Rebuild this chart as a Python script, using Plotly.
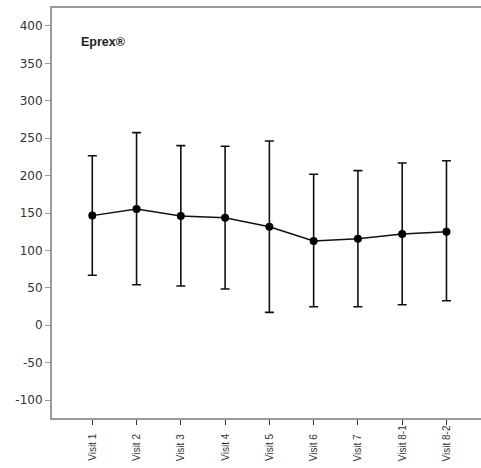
import plotly.graph_objects as go

visits = ["Visit 1", "Visit 2", "Visit 3", "Visit 4", "Visit 5", "Visit 6", "Visit 7", "Visit 8-1", "Visit 8-2"]
means = [146.5, 155.3, 146.0, 143.7, 131.7, 112.5, 115.6, 121.9, 125.0]
upper = [226.6, 257.4, 240.0, 239.2, 246.2, 201.7, 206.6, 216.8, 219.9]
lower = [66.7, 54.1, 52.4, 48.4, 17.2, 24.7, 24.7, 27.4, 32.7]
y_ticks = [-100, -50, 0, 50, 100, 150, 200, 250, 300, 350, 400]
y_tick_labels = ["-100", "-50", "0", "50", "100", "150", "200", "250", "300", "350", "400"]

err_plus = [u - m for u, m in zip(upper, means)]
err_minus = [m - l for m, l in zip(means, lower)]
xi = list(range(len(visits)))

fig = go.Figure()
fig.add_trace(go.Scatter(
    x=xi, y=means, mode="lines+markers",
    line=dict(color="#111111", width=1.5),
    marker=dict(color="#000000", size=8),
    error_y=dict(type="data", symmetric=False, array=err_plus, arrayminus=err_minus,
                 color="#111111", thickness=1.6, width=4.5),
    showlegend=False,
))

annotations = [dict(
    text="<b>Eprex®</b>", xref="paper", yref="paper", x=0.063, y=0.917,
    xanchor="left", yanchor="middle", showarrow=False,
    font=dict(size=12.5, color="#222222", family="Liberation Sans, Arial, sans-serif"),
)]
for i, v in zip(xi, visits):
    annotations.append(dict(
        text=v, xref="x", yref="paper", x=i, y=-0.1098,
        xanchor="center", yanchor="bottom", textangle=-90, showarrow=False,
        font=dict(size=10, color="#333333", family="Liberation Sans, Arial, sans-serif"),
    ))

fig.update_layout(
    width=481, height=468,
    margin=dict(l=52, r=0, t=8, b=50, autoexpand=False),
    plot_bgcolor="white", paper_bgcolor="white",
    font=dict(family="Liberation Sans, Arial, sans-serif", color="#333333"),
    xaxis=dict(
        range=[-0.91, 8.78], tickmode="array", tickvals=xi, showticklabels=False,
        showgrid=False, zeroline=False, automargin=False,
        showline=True, linecolor="#9a9a9a", linewidth=2, mirror=True,
        ticks="outside", ticklen=5, tickcolor="#333333", tickwidth=1,
    ),
    yaxis=dict(
        range=[-124, 424], tickmode="array", tickvals=y_ticks, ticktext=y_tick_labels,
        showgrid=False, zeroline=False, automargin=False,
        showline=True, linecolor="#9a9a9a", linewidth=2,
        ticks="outside", ticklen=5, tickcolor="#9a9a9a", tickwidth=1,
        tickfont=dict(size=12, family="DejaVu Sans, sans-serif", color="#333333"),
    ),
    annotations=annotations,
)

fig.write_html(
    "out.html",
    config={"displayModeBar": False},
    post_script="document.body.style.margin='0';document.body.style.overflow='hidden';",
)
